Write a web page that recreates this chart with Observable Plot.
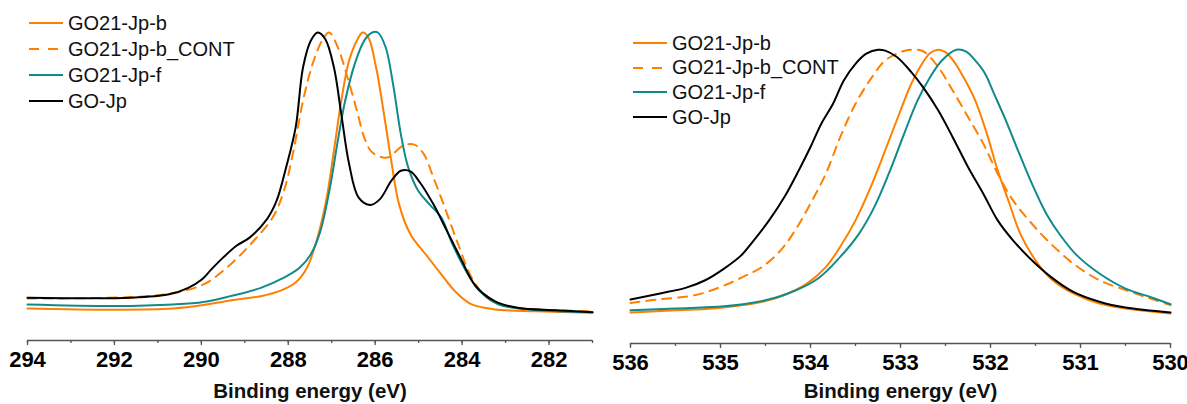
<!DOCTYPE html>
<html>
<head>
<meta charset="utf-8">
<script src="https://cdn.jsdelivr.net/npm/d3@7"></script>
<script src="https://cdn.jsdelivr.net/npm/@observablehq/plot@0.6"></script>
<style>
  html, body { margin: 0; padding: 0; background: #fff; }
  body { width: 1187px; height: 404px; position: relative; overflow: hidden; font-family: "Liberation Sans", Arial, Helvetica, sans-serif; }
  .panel { position: absolute; top: 0; }
  .legend { position: absolute; font-size: 20px; color: #111; }
  .legend .row { position: absolute; left: 0; white-space: nowrap; display: flex; align-items: center; height: 24px; }
  .legend svg { display: block; margin-right: 5px; }
</style>
</head>
<body>
<div id="left" class="panel" style="left:0px"></div>
<div id="right" class="panel" style="left:600px"></div>
<div id="legL" class="legend" style="left:29px; top:11px"></div>
<div id="legR" class="legend" style="left:633px; top:31px"></div>
<script>
// ---- Series names and styles ----
const seriesNames = ["GO21-Jp-b", "GO21-Jp-b_CONT", "GO21-Jp-f", "GO-Jp"];
const seriesColors = ["#ff8000", "#ff8000", "#108a8a", "#000000"];
const seriesDash = [null, "9,7", null, null];

// ---- Axis ticks ----
const c1sTicks = [294, 292, 290, 288, 286, 284, 282];
const o1sTicks = [536, 535, 534, 533, 532, 531, 530];
const axisTitle = "Binding energy (eV)";

// ---- C 1s panel data: [binding energy (eV), normalized intensity] ----
const c1s_GOJp = [[294,0.139],[291.62,0.139],[290.74,0.150],[290.3,0.171],[289.99,0.198],[289.77,0.231],[289.5,0.269],[289.2,0.307],[288.89,0.334],[288.49,0.394],[288.27,0.453],[288.05,0.562],[287.83,0.692],[287.66,0.887],[287.48,0.974],[287.32,1.0],[287.15,0.979],[286.95,0.887],[286.78,0.735],[286.6,0.573],[286.38,0.464],[286.11,0.440],[285.89,0.459],[285.63,0.518],[285.41,0.551],[285.19,0.549],[284.97,0.513],[284.66,0.442],[284.35,0.356],[284.04,0.269],[283.69,0.177],[283.25,0.128],[282.72,0.106],[281.84,0.098],[281.0,0.092]];
const c1s_bCONT = [[294,0.136],[291.62,0.141],[290.74,0.152],[289.95,0.182],[289.33,0.247],[288.8,0.323],[288.36,0.399],[288.1,0.486],[287.88,0.616],[287.66,0.779],[287.44,0.898],[287.22,0.974],[287.06,1.0],[286.86,0.952],[286.64,0.855],[286.42,0.746],[286.25,0.659],[286.07,0.611],[285.72,0.594],[285.37,0.632],[285.1,0.636],[284.88,0.605],[284.66,0.529],[284.4,0.432],[284.09,0.312],[283.78,0.204],[283.43,0.139],[282.99,0.112],[282.28,0.101],[281.0,0.095]];
const c1s_b = [[294,0.104],[291.97,0.100],[290.65,0.104],[289.95,0.115],[289.33,0.130],[288.63,0.144],[288.19,0.161],[287.83,0.188],[287.57,0.236],[287.35,0.323],[287.13,0.453],[286.95,0.616],[286.78,0.779],[286.6,0.909],[286.42,0.974],[286.29,1.0],[286.16,0.985],[285.98,0.887],[285.81,0.746],[285.63,0.583],[285.45,0.442],[285.19,0.345],[284.84,0.280],[284.48,0.215],[284.13,0.155],[283.78,0.117],[283.25,0.101],[282.28,0.095],[281.0,0.090]];
const c1s_f = [[294,0.117],[291.97,0.112],[290.65,0.117],[289.95,0.125],[289.33,0.144],[288.63,0.171],[288.1,0.204],[287.74,0.236],[287.48,0.280],[287.26,0.356],[287.04,0.497],[286.86,0.649],[286.69,0.779],[286.47,0.898],[286.25,0.974],[286.07,1.0],[285.94,1.0],[285.76,0.952],[285.59,0.833],[285.41,0.670],[285.24,0.562],[285.01,0.486],[284.75,0.442],[284.48,0.399],[284.22,0.312],[283.91,0.226],[283.6,0.161],[283.16,0.117],[282.46,0.101],[281.0,0.092]];

// ---- O 1s panel data ----
const o1s_GOJp = [[536,0.143],[535.67,0.163],[535.38,0.182],[535.17,0.206],[534.96,0.244],[534.77,0.287],[534.63,0.336],[534.46,0.401],[534.29,0.477],[534.13,0.564],[534.0,0.640],[533.88,0.716],[533.75,0.781],[533.63,0.857],[533.5,0.911],[533.38,0.944],[533.25,0.957],[533.17,0.954],[533.04,0.933],[532.88,0.884],[532.75,0.835],[532.58,0.759],[532.42,0.672],[532.25,0.575],[532.08,0.488],[531.92,0.401],[531.75,0.336],[531.54,0.271],[531.33,0.217],[531.08,0.168],[530.79,0.136],[530.5,0.117],[530,0.101]];
const o1s_bCONT = [[536,0.132],[535.71,0.143],[535.29,0.157],[535.0,0.184],[534.75,0.217],[534.54,0.249],[534.33,0.304],[534.17,0.369],[534.0,0.456],[533.83,0.553],[533.67,0.672],[533.5,0.781],[533.33,0.862],[533.17,0.922],[533.0,0.949],[532.88,0.957],[532.75,0.952],[532.58,0.900],[532.42,0.824],[532.25,0.738],[532.08,0.651],[531.92,0.553],[531.75,0.466],[531.54,0.390],[531.33,0.325],[531.08,0.260],[530.79,0.206],[530.5,0.174],[530.25,0.149],[530,0.125]];
const o1s_b = [[536,0.101],[535.5,0.108],[535.08,0.114],[534.75,0.125],[534.5,0.138],[534.25,0.163],[534.04,0.195],[533.83,0.249],[533.67,0.315],[533.5,0.401],[533.33,0.510],[533.17,0.629],[533.0,0.759],[532.88,0.846],[532.75,0.916],[532.67,0.946],[532.58,0.957],[532.5,0.949],[532.4,0.916],[532.29,0.862],[532.17,0.792],[532.04,0.683],[531.92,0.564],[531.79,0.456],[531.67,0.358],[531.5,0.271],[531.33,0.211],[531.08,0.163],[530.79,0.130],[530.5,0.114],[530,0.098]];
const o1s_f = [[536,0.108],[535.5,0.114],[534.96,0.121],[534.58,0.136],[534.25,0.163],[533.92,0.211],[533.67,0.282],[533.46,0.358],[533.29,0.445],[533.13,0.553],[532.96,0.683],[532.81,0.792],[532.67,0.868],[532.54,0.922],[532.38,0.957],[532.27,0.951],[532.17,0.922],[532.06,0.879],[531.96,0.813],[531.83,0.727],[531.71,0.640],[531.54,0.521],[531.38,0.423],[531.21,0.347],[531.04,0.287],[530.79,0.228],[530.5,0.179],[530.21,0.150],[530,0.128]];

const font = '"Liberation Sans", Arial, Helvetica, sans-serif';

function panel({data, domain, ticks, minor, width, ml, mr, mt, mb, titleDy}) {
  // draw order: dashed, orange, teal, black
  const order = [1, 0, 2, 3];
  const lines = order.map(i => Plot.line(data[i], {
    x: d => d[0], y: d => d[1],
    stroke: seriesColors[i], strokeWidth: 2,
    strokeDasharray: seriesDash[i] ?? undefined,
    curve: "catmull-rom"
  }));
  return Plot.plot({
    width, height: 404,
    marginLeft: ml, marginRight: mr, marginTop: mt, marginBottom: mb,
    style: {fontFamily: font, background: "transparent", overflow: "visible"},
    x: {domain, axis: null},
    y: {domain: [0, 1], axis: null},
    marks: [
      ...lines,
      Plot.ruleY([0], {stroke: "#555", strokeWidth: 1.3}),
      Plot.axisX(minor, {tickSize: 3, text: null, stroke: "#555", strokeWidth: 1.3}),
      Plot.axisX(ticks, {tickSize: 5, tickPadding: 6, fontSize: 22, fontWeight: "bold", fill: "#000", stroke: "#555", strokeWidth: 1.3, tickFormat: d => String(d), label: null}),
      Plot.text([axisTitle], {frameAnchor: "bottom", dy: titleDy, fontSize: 20.5, fontWeight: "bold", fill: "#111"})
    ]
  });
}

document.getElementById("left").append(panel({
  data: [c1s_b, c1s_bCONT, c1s_f, c1s_GOJp],
  domain: [294, 281], ticks: c1sTicks, minor: d3.range(281, 295, 1),
  width: 600, ml: 27, mr: 8, mt: 32, mb: 64, titleDy: 57
}));
document.getElementById("right").append(panel({
  data: [o1s_b, o1s_bCONT, o1s_f, o1s_GOJp],
  domain: [536, 530], ticks: o1sTicks, minor: d3.range(530, 536.01, 0.5),
  width: 587, ml: 30, mr: 17, mt: 36, mb: 61, titleDy: 54
}));

function legend(id, spacing) {
  const el = document.getElementById(id);
  seriesNames.forEach((name, i) => {
    const row = document.createElement("div");
    row.className = "row";
    row.style.top = (i * spacing) + "px";
    const dash = seriesDash[i] ? `stroke-dasharray="10,9"` : "";
    row.innerHTML = `<svg width="34" height="4"><line x1="0" y1="2" x2="34" y2="2" stroke="${seriesColors[i]}" stroke-width="2.2" ${dash}/></svg><span>${name}</span>`;
    el.append(row);
  });
}
legend("legL", 26.1);
legend("legR", 24.7);
</script>
</body>
</html>
